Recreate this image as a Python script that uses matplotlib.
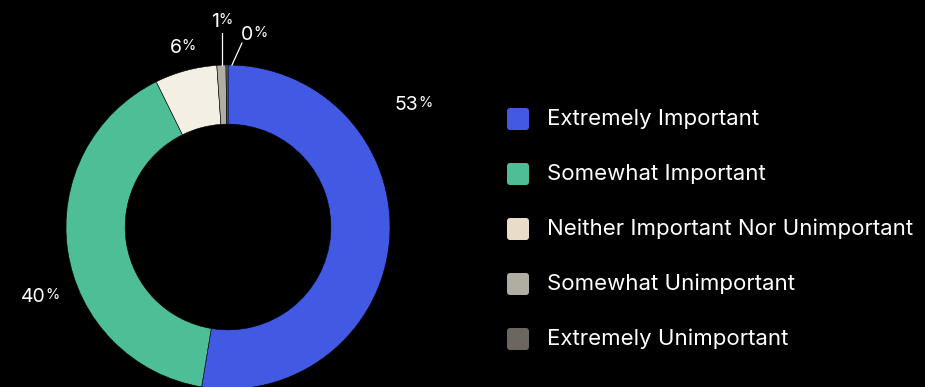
import numpy as np
import matplotlib.pyplot as plt
from matplotlib.patches import FancyBboxPatch

plt.rcParams['font.family'] = ['Inter', 'DejaVu Sans']

# data
categories = ["Extremely Important", "Somewhat Important",
              "Neither Important Nor Unimportant", "Somewhat Unimportant",
              "Extremely Unimportant"]
shares = [52.6, 40.1, 6.2, 0.9, 0.2]
colors = ["#4159E3", "#4EBE96", "#F3EFE4", "#B0ADA3", "#6B665E"]
legend_colors = ["#4159E3", "#4EBE96", "#E9DDC9", "#B0ADA3", "#6B665E"]

W, H = 925, 387
fig = plt.figure(figsize=(W / 100, H / 100), dpi=100, facecolor="black")
ax = fig.add_axes([0, 0, 1, 1])
ax.set_facecolor("black")

cx, cy, R = 228, H - 227, 162
ax.pie(shares, colors=colors, startangle=90, counterclock=False,
       center=(cx, cy), radius=R,
       wedgeprops=dict(width=R * 0.365, edgecolor="black", linewidth=0.4))
ax.set_xlim(0, W)
ax.set_ylim(0, H)
ax.set_aspect("equal")
ax.axis("off")

# label placement: (angle deg, radius multiple, leader line dx/dy in px or None)
label_pos = [(33.5, 1.37, None), (200.5, 1.235, None), (106, 1.15, None),
             (92.2, 1.0, (0, 32)), (88.6, 1.0, (10, 22))]
text_off = [(0, 0), (0, 0), (0, 0), (-8, 11), (6, 8)]
for val, (ang, rr, lead), (tx, ty) in zip(shares, label_pos, text_off):
    a = np.deg2rad(ang)
    x, y = cx + R * rr * np.cos(a), cy + R * rr * np.sin(a)
    if lead is not None:
        ax.plot([x, x + lead[0]], [y, y + lead[1]], color="white", lw=0.9)
        x, y = x + lead[0], y + lead[1]
    x, y = x + tx, y + ty
    ax.text(x + 5, y, f"{round(val)}", color="white", fontsize=14,
            ha="right", va="center")
    ax.text(x + 5, y + 2, "%", color="white", fontsize=10.5, ha="left",
            va="center")

# legend
lx, ly0, step = 507, H - 119, 55
for i, (name, c) in enumerate(zip(categories, legend_colors)):
    y = ly0 - i * step
    ax.add_patch(FancyBboxPatch((lx + 3, y - 8), 16, 16,
                                boxstyle="round,pad=3", fc=c, ec="none"))
    ax.text(547, y, name, color="white", fontsize=16, va="center", ha="left")

fig.savefig("out.png", dpi=100, facecolor="black")
